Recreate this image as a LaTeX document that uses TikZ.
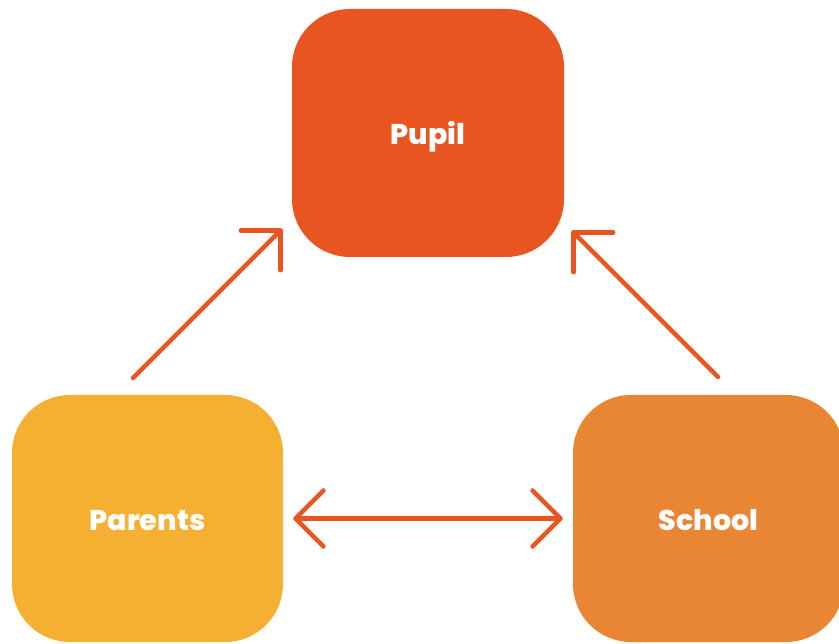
\documentclass[tikz,border=0pt]{standalone}
\usepackage{fontspec}
\newfontfamily\pop{Poppins}[UprightFont={* ExtraBold}]
\usetikzlibrary{arrows.meta}
\definecolor{pupilc}{HTML}{E85520}
\definecolor{parentc}{HTML}{F5B031}
\definecolor{schoolc}{HTML}{E88633}
\definecolor{arrowc}{HTML}{E85520}
\begin{document}
\begin{tikzpicture}[x=1pt,y=-1pt,
  box/.style={rounded corners=58pt, minimum width=272pt, minimum height=248pt,
    inner sep=0pt, text=white, font=\pop\fontsize{28.5}{30}\selectfont,
    text height=24pt, text depth=0pt},
  link/.style={draw=arrowc, line width=4.5pt, line cap=round,
    -{Straight Barb[length=28pt,width=56pt,round]}},
  dlink/.style={link, {Straight Barb[length=28pt,width=56pt,round]}-{Straight Barb[length=28pt,width=56pt,round]}}]
\useasboundingbox (0,0) rectangle (839,644);
\clip (0,0) rectangle (839,644);
\node[box, fill=pupilc] (pupil) at (428,133) {Pupil};
\node[box, fill=parentc, minimum width=271pt, minimum height=247pt] (parents) at (147.5,518.5) {Parents};
\node[box, fill=schoolc, minimum width=271pt, minimum height=247pt] (school) at (708.5,518.5) {School};
\coordinate (pa) at (133,378);
\coordinate (pb) at (282,229);
\coordinate (sa) at (718,377);
\coordinate (sb) at (572,231);
\draw[link] (pa) -- (pb);
\draw[link] (sa) -- (sb);
\draw[dlink, shorten <=10pt, shorten >=10pt] (parents.east) -- (school.west);
\end{tikzpicture}
\end{document}
